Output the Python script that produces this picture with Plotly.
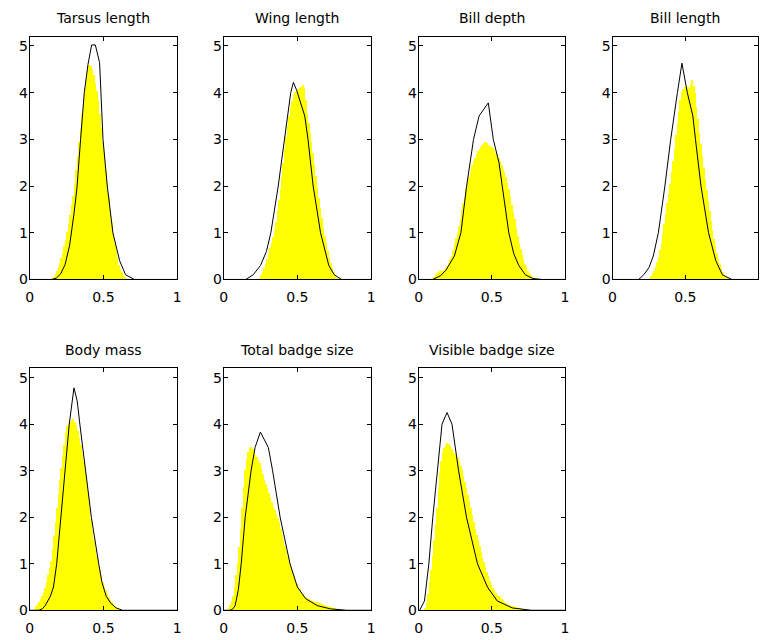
import numpy as np
import plotly.graph_objects as go

# ---------------- data ----------------
titles = ["Tarsus length", "Wing length", "Bill depth", "Bill length",
          "Body mass", "Total badge size", "Visible badge size"]

bin_width = 0.01
hist_start = [0.15, 0.23, 0.09, 0.24, 0.03, 0.03, 0.04]

hist_tarsus = [0.02, 0.06, 0.12, 0.2, 0.28, 0.36, 0.46, 0.58, 0.72, 0.86,
               1.02, 1.2, 1.4, 1.6, 1.8, 2.05, 2.35, 2.65, 2.95, 3.25,
               3.55, 3.85, 4.1, 4.3, 4.5, 4.6, 4.58, 4.5, 4.38, 4.22,
               4.05, 3.85, 3.55, 3.25, 2.95, 2.65, 2.35, 2.05, 1.78, 1.5,
               1.25, 1.0, 0.8, 0.62, 0.46, 0.33, 0.23, 0.16, 0.1, 0.06,
               0.03, 0.01]
hist_wing = [0.01, 0.05, 0.1, 0.17, 0.25, 0.35, 0.45, 0.56, 0.68, 0.8,
             0.92, 1.05, 1.25, 1.5, 1.72, 1.95, 2.2, 2.5, 2.8, 3.05,
             3.3, 3.5, 3.68, 3.82, 3.95, 4.02, 4.05, 4.08, 4.1, 4.12,
             4.18, 4.1, 3.85, 3.55, 3.35, 3.15, 2.95, 2.72, 2.48, 2.22,
             1.98, 1.75, 1.55, 1.32, 1.12, 0.95, 0.78, 0.62, 0.48, 0.36,
             0.26, 0.17, 0.1, 0.05, 0.02]
hist_billdepth = [0.02, 0.06, 0.1, 0.14, 0.17, 0.19, 0.2, 0.2, 0.22, 0.26,
                  0.3, 0.36, 0.44, 0.52, 0.65, 0.78, 0.9, 1.0, 1.15, 1.3,
                  1.5, 1.65, 1.8, 1.95, 2.08, 2.2, 2.32, 2.45, 2.55, 2.62,
                  2.7, 2.75, 2.8, 2.85, 2.88, 2.9, 2.95, 2.93, 2.88, 2.86,
                  2.85, 2.82, 2.78, 2.72, 2.65, 2.6, 2.55, 2.45, 2.38, 2.3,
                  2.2, 2.08, 1.95, 1.8, 1.6, 1.45, 1.3, 1.12, 0.95, 0.8,
                  0.66, 0.54, 0.44, 0.35, 0.27, 0.2, 0.15, 0.11, 0.08, 0.05,
                  0.04, 0.02, 0.01]
hist_billlength = [0.01, 0.04, 0.08, 0.14, 0.2, 0.28, 0.38, 0.5, 0.64, 0.8,
                   0.98, 1.2, 1.42, 1.65, 1.85, 2.05, 2.3, 2.55, 2.8, 3.1,
                   3.35, 3.6, 3.85, 4.02, 4.08, 4.12, 4.15, 4.12, 4.1, 4.18,
                   4.28, 4.15, 4.0, 3.7, 3.45, 3.15, 2.9, 2.65, 2.4, 2.15,
                   1.92, 1.7, 1.48, 1.26, 1.06, 0.88, 0.72, 0.57, 0.45, 0.34,
                   0.25, 0.17, 0.11, 0.07, 0.04, 0.02]
hist_bodymass = [0.02, 0.08, 0.13, 0.18, 0.24, 0.3, 0.38, 0.48, 0.6, 0.75,
                 0.9, 1.05, 1.3, 1.6, 1.9, 2.2, 2.5, 2.8, 3.05, 3.3,
                 3.55, 3.8, 3.95, 4.02, 4.05, 4.08, 4.1, 4.05, 3.98, 3.85,
                 3.7, 3.55, 3.38, 3.2, 3.0, 2.75, 2.48, 2.2, 1.95, 1.72,
                 1.52, 1.32, 1.15, 1.0, 0.85, 0.72, 0.6, 0.5, 0.42, 0.34,
                 0.27, 0.21, 0.16, 0.12, 0.09, 0.06, 0.04, 0.02, 0.01]
hist_totalbadge = [0.03, 0.1, 0.2, 0.3, 0.5, 0.75, 1.0, 1.35, 1.75, 2.2,
                   2.65, 3.0, 3.25, 3.4, 3.48, 3.5, 3.45, 3.38, 3.32, 3.28,
                   3.22, 3.15, 3.05, 2.92, 2.8, 2.7, 2.62, 2.52, 2.42, 2.32,
                   2.22, 2.14, 2.06, 1.98, 1.88, 1.75, 1.62, 1.5, 1.38, 1.26,
                   1.15, 1.04, 0.94, 0.84, 0.74, 0.65, 0.56, 0.5, 0.44, 0.39,
                   0.35, 0.31, 0.28, 0.26, 0.24, 0.22, 0.21, 0.2, 0.19, 0.18,
                   0.17, 0.15, 0.14, 0.13, 0.11, 0.1, 0.09, 0.08, 0.07, 0.06,
                   0.05, 0.04, 0.03, 0.02, 0.02, 0.01, 0.01]
hist_visiblebadge = [0.03, 0.15, 0.35, 0.6, 0.85, 1.15, 1.5, 1.85, 2.2, 2.6,
                     2.95, 3.2, 3.38, 3.48, 3.55, 3.58, 3.56, 3.52, 3.45, 3.4,
                     3.36, 3.32, 3.28, 3.2, 3.1, 3.0, 2.88, 2.75, 2.62, 2.48,
                     2.35, 2.2, 2.05, 1.9, 1.75, 1.62, 1.5, 1.38, 1.25, 1.12,
                     1.02, 0.92, 0.82, 0.72, 0.62, 0.54, 0.48, 0.42, 0.37, 0.33,
                     0.3, 0.27, 0.24, 0.21, 0.18, 0.15, 0.13, 0.11, 0.1, 0.09,
                     0.08, 0.07, 0.06, 0.05, 0.04, 0.03, 0.02, 0.01, 0.01]

line_x_tarsus = [0, 0.15, 0.18, 0.21, 0.24, 0.27, 0.30, 0.32, 0.345, 0.37, 0.395,
                 0.42, 0.445, 0.474, 0.497, 0.526, 0.564, 0.61, 0.65, 0.71, 1]
line_y_tarsus = [0, 0, 0.03, 0.12, 0.32, 0.72, 1.4, 1.95, 3.0, 4.0, 4.6,
                 5.02, 5.02, 4.64, 3.0, 2.0, 1.0, 0.4, 0.1, 0, 0]
line_x_wing = [0, 0.15, 0.2, 0.25, 0.29, 0.32, 0.37, 0.41, 0.455, 0.473, 0.495,
               0.52, 0.55, 0.572, 0.607, 0.657, 0.69, 0.713, 0.75, 0.8, 1]
line_y_wing = [0, 0, 0.1, 0.3, 0.6, 1.0, 2.0, 3.0, 4.0, 4.22, 4.05,
               3.8, 3.5, 3.0, 2.0, 1.0, 0.55, 0.3, 0.1, 0, 0]
line_x_billdepth = [0, 0.097, 0.15, 0.187, 0.244, 0.289, 0.328, 0.375, 0.413, 0.476,
                    0.51, 0.549, 0.571, 0.616, 0.65, 0.684, 0.729, 0.78, 0.84, 1]
line_y_billdepth = [0, 0, 0.08, 0.2, 0.5, 1.0, 2.0, 3.0, 3.5, 3.78,
                    3.0, 2.5, 2.0, 1.0, 0.55, 0.3, 0.1, 0.02, 0, 0]
line_x_billlength = [0, 0.18, 0.214, 0.25, 0.28, 0.315, 0.36, 0.4, 0.446, 0.477,
                     0.514, 0.552, 0.57, 0.608, 0.66, 0.71, 0.755, 0.82, 1]
line_y_billlength = [0, 0, 0.1, 0.25, 0.5, 1.0, 2.0, 3.0, 4.0, 4.63,
                     4.0, 3.5, 3.0, 2.0, 1.0, 0.4, 0.1, 0, 0]
line_x_bodymass = [0, 0.06, 0.085, 0.105, 0.14, 0.161, 0.183, 0.21, 0.24, 0.268, 0.3,
                   0.322, 0.34, 0.38, 0.418, 0.468, 0.49, 0.519, 0.55, 0.586, 0.63, 1]
line_y_bodymass = [0, 0, 0.03, 0.1, 0.3, 0.5, 1.0, 2.0, 3.0, 4.0, 4.78,
                   4.5, 4.0, 3.0, 2.0, 1.0, 0.6, 0.3, 0.15, 0.05, 0, 0]
line_x_totalbadge = [0, 0.04, 0.06, 0.078, 0.1, 0.119, 0.146, 0.186, 0.213, 0.249,
                     0.303, 0.332, 0.383, 0.45, 0.5, 0.556, 0.635, 0.724, 0.836, 1]
line_y_totalbadge = [0, 0, 0.02, 0.1, 0.45, 1.0, 2.0, 3.0, 3.5, 3.83,
                     3.5, 3.0, 2.0, 1.0, 0.5, 0.25, 0.1, 0.03, 0, 0]
line_x_visiblebadge = [0, 0.007, 0.04, 0.07, 0.097, 0.126, 0.16, 0.194, 0.228, 0.273,
                       0.327, 0.402, 0.47, 0.537, 0.64, 0.77, 1]
line_y_visiblebadge = [0, 0, 0.2, 1.0, 2.0, 3.0, 4.0, 4.25, 4.0, 3.0,
                       2.0, 1.0, 0.5, 0.2, 0.05, 0, 0]

hists = [hist_tarsus, hist_wing, hist_billdepth, hist_billlength,
         hist_bodymass, hist_totalbadge, hist_visiblebadge]
lines_x = [line_x_tarsus, line_x_wing, line_x_billdepth, line_x_billlength,
           line_x_bodymass, line_x_totalbadge, line_x_visiblebadge]
lines_y = [line_y_tarsus, line_y_wing, line_y_billdepth, line_y_billlength,
           line_y_bodymass, line_y_totalbadge, line_y_visiblebadge]

x_ticks = [0, 0.5, 1]
x_ticktext = ["0", "0.5", "1"]
y_ticks = [0, 1, 2, 3, 4, 5]

# ---------------- layout geometry ----------------
W, H = 762, 640
col_px = [(26, 175), (222, 371), (419, 567), (615, 762)]
row_px = [(37, 283), (373, 618)]
title_px = [18, 354]

FONT = "DejaVu Sans"

fig = go.Figure()
layout = dict(
    width=W, height=H, margin=dict(l=0, r=0, t=0, b=0),
    paper_bgcolor="white", plot_bgcolor="white",
    showlegend=False, barmode="overlay", bargap=0,
    font=dict(family=FONT, size=14, color="black"),
    annotations=[],
)

for i, title in enumerate(titles):
    r, c = divmod(i, 4)
    n = i + 1
    xa = "x" if n == 1 else f"x{n}"
    ya = "y" if n == 1 else f"y{n}"
    vals = hists[i]
    centers = hist_start[i] + bin_width * (np.arange(len(vals)) + 0.5)
    fig.add_trace(go.Bar(x=centers, y=vals, width=bin_width,
                         marker=dict(color="#FFFF00", line=dict(width=0)),
                         xaxis=xa, yaxis=ya, hoverinfo="skip"))
    fig.add_trace(go.Scatter(x=lines_x[i], y=lines_y[i], mode="lines",
                             line=dict(color="black", width=1),
                             xaxis=xa, yaxis=ya, hoverinfo="skip"))
    x0, x1 = col_px[c]
    y0, y1 = row_px[r]
    xdom = [x0 / W, x1 / W]
    ydom = [1 - y1 / H, 1 - y0 / H]
    common = dict(showgrid=False, zeroline=False, showline=True, linecolor="black",
                  linewidth=1, mirror="allticks", ticks="inside", ticklen=4,
                  tickcolor="black", tickwidth=1,
                  tickfont=dict(family=FONT, size=14, color="black"))
    layout["xaxis" if n == 1 else f"xaxis{n}"] = dict(
        domain=xdom, range=[0, 1], tickvals=x_ticks, ticktext=x_ticktext,
        anchor=ya, ticklabelstandoff=5, **common)
    layout["yaxis" if n == 1 else f"yaxis{n}"] = dict(
        domain=ydom, range=[0, 5.2], tickvals=y_ticks, anchor=xa,
        ticklabelstandoff=-2, **common)
    layout["annotations"].append(dict(
        text=title, x=(xdom[0] + xdom[1]) / 2, y=1 - title_px[r] / H,
        xref="paper", yref="paper", xanchor="center", yanchor="middle",
        showarrow=False, font=dict(family=FONT, size=14, color="black")))

fig.update_layout(**layout)
fig.write_html("out.html")
